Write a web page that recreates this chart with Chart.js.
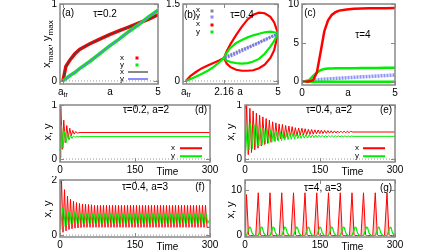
<!DOCTYPE html>
<html>
<head>
<meta charset="utf-8">
<script src="https://cdn.jsdelivr.net/npm/chart.js@4.4.0/dist/chart.umd.min.js"></script>
<style>
html, body { margin: 0; padding: 0; background: #fff; }
#fig { position: relative; width: 448px; height: 252px; overflow: hidden; font-family: "Liberation Sans", Arial, sans-serif; color: #000; }
#fig canvas { position: absolute; }
.c { position: absolute; transform: translate(-50%, -50%); white-space: nowrap; font-size: 10px; line-height: 1; }
.sm { font-size: 8px; }
.yt { position: absolute; transform: translate(-50%, -50%) rotate(-90deg); white-space: nowrap; font-size: 11px; line-height: 1; }
.yt sub { font-size: 8px; }
.dot { position: absolute; width: 3px; height: 3px; transform: translate(-50%, -50%); }
.ln { position: absolute; height: 2px; transform: translateY(-50%); }
</style>
</head>
<body>
<div id="fig">
  <canvas id="pa"></canvas><canvas id="pb"></canvas><canvas id="pc"></canvas>
  <canvas id="pd"></canvas><canvas id="pe"></canvas><canvas id="pf"></canvas><canvas id="pg"></canvas>

  <div class="yt" style="left:48px;top:44px">x<sub>max</sub>, y<sub>max</sub></div>
  <div class="yt" style="left:47px;top:132px">x, y</div>
  <div class="yt" style="left:230px;top:132px">x, y</div>
  <div class="yt" style="left:47px;top:209px">x, y</div>
  <div class="yt" style="left:230px;top:210px">x, y</div>

  <div class="c" style="left:68px;top:13px">(a)</div>
  <div class="c" style="left:105px;top:14px">τ=0.2</div>
  <div class="c sm" style="left:122px;top:58px">x</div>
  <div class="c sm" style="left:122px;top:65px">y</div>
  <div class="c sm" style="left:122px;top:72px">x</div>
  <div class="c sm" style="left:122px;top:79px">y</div>
  <div class="dot" style="left:137px;top:58px;background:#f00"></div>
  <div class="dot" style="left:137px;top:65px;background:#0e0"></div>
  <div class="ln" style="left:128px;top:72px;width:20px;background:#888"></div>
  <div class="ln" style="left:128px;top:79px;width:20px;background:#8c8cff"></div>

  <div class="c" style="left:190px;top:15px">(b)</div>
  <div class="c" style="left:242px;top:15px">τ=0.4</div>
  <div class="c sm" style="left:198px;top:10px">x</div>
  <div class="c sm" style="left:198px;top:16px">y</div>
  <div class="c sm" style="left:198px;top:24px">x</div>
  <div class="c sm" style="left:198px;top:32px">y</div>
  <div class="dot" style="left:212px;top:11px;background:#888"></div>
  <div class="dot" style="left:212px;top:17px;background:#8c8cff"></div>
  <div class="dot" style="left:212px;top:25px;background:#f00"></div>
  <div class="dot" style="left:212px;top:32px;background:#0e0"></div>

  <div class="c" style="left:310px;top:13px">(c)</div>
  <div class="c" style="left:363px;top:35px">τ=4</div>

  <div class="c" style="left:146px;top:110px">τ=0.2, a=2</div>
  <div class="c" style="left:201px;top:110px">(d)</div>
  <div class="c sm" style="left:173px;top:148px">x</div>
  <div class="c sm" style="left:173px;top:156px">y</div>
  <div class="ln" style="left:180px;top:148px;width:22px;background:#f00;height:1.5px"></div>
  <div class="ln" style="left:180px;top:156px;width:22px;background:#0e0;height:1.5px"></div>

  <div class="c" style="left:329px;top:110px">τ=0.4, a=2</div>
  <div class="c" style="left:386px;top:110px">(e)</div>
  <div class="c sm" style="left:357px;top:148px">x</div>
  <div class="c sm" style="left:357px;top:156px">y</div>
  <div class="ln" style="left:363px;top:148px;width:22px;background:#f00;height:1.5px"></div>
  <div class="ln" style="left:363px;top:156px;width:22px;background:#0e0;height:1.5px"></div>

  <div class="c" style="left:145px;top:187px">τ=0.4, a=3</div>
  <div class="c" style="left:200px;top:187px">(f)</div>

  <div class="c" style="left:323px;top:188px">τ=4, a=3</div>
  <div class="c" style="left:386px;top:188px">(g)</div>
</div>

<script>
// (a) tau = 0.2, maxima versus a
const aA    = [0.15, 0.3, 0.5, 0.75, 1, 1.5, 2, 2.5, 3, 3.5, 4, 4.5, 5];
const aXsim = [0, 0.19, 0.27, 0.35, 0.41, 0.48, 0.54, 0.6, 0.65, 0.7, 0.75, 0.8, 0.86];
const aYsim = [0, 0.03, 0.07, 0.11, 0.16, 0.25, 0.35, 0.45, 0.54, 0.64, 0.73, 0.83, 0.92];
const aXth  = [0, 0.19, 0.27, 0.35, 0.41, 0.48, 0.54, 0.6, 0.65, 0.7, 0.75, 0.8, 0.86];
const aYth  = [0, 0.03, 0.07, 0.11, 0.16, 0.25, 0.35, 0.45, 0.54, 0.64, 0.73, 0.83, 0.92];

// (b) tau = 0.4
const bA1  = [0.15, 0.4, 0.7, 1.0, 1.3, 1.6, 1.9, 2.16];
const bX1  = [0, 0.1, 0.18, 0.25, 0.3, 0.35, 0.4, 0.45];
const bY1  = [0, 0.04, 0.09, 0.14, 0.2, 0.27, 0.36, 0.45];
const bA2  = [2.16, 2.3, 2.5, 2.8, 3.1, 3.4, 3.7, 4.0, 4.3, 4.6, 4.8, 5];
const bXup = [0.45, 0.58, 0.72, 0.9, 1.06, 1.2, 1.29, 1.33, 1.32, 1.25, 1.14, 0.93];
const bXlo = [0.45, 0.34, 0.27, 0.22, 0.2, 0.2, 0.21, 0.25, 0.32, 0.45, 0.6, 0.93];
const bYup = [0.45, 0.55, 0.65, 0.74, 0.8, 0.85, 0.89, 0.92, 0.95, 0.96, 0.95, 0.93];
const bYlo = [0.45, 0.4, 0.37, 0.35, 0.34, 0.35, 0.38, 0.43, 0.53, 0.67, 0.78, 0.93];
const bA3  = [2.2, 2.6, 3.0, 3.4, 3.8, 4.2, 4.6, 5];
const bXth = [0.47, 0.53, 0.6, 0.66, 0.72, 0.79, 0.86, 0.92];
const bYth = [0.45, 0.5, 0.57, 0.64, 0.71, 0.78, 0.85, 0.92];

// (c) tau = 4
const cA    = [0, 0.2, 0.4, 0.6, 0.8, 1.0, 1.2, 1.4, 1.6, 1.8, 2.0, 2.4, 2.8, 3.2, 3.6, 4, 4.5, 5];
const cX    = [0, 0, 0.05, 0.2, 1.2, 3.8, 6.5, 7.9, 8.6, 8.95, 9.15, 9.3, 9.38, 9.42, 9.44, 9.45, 9.46, 9.47];
const cYmax = [0, 0, 0.25, 0.75, 1.2, 1.5, 1.63, 1.69, 1.71, 1.72, 1.73, 1.74, 1.75, 1.76, 1.77, 1.78, 1.79, 1.8];
const cAlow = [0, 5];
const cYmin = [0, 0];
const cAb   = [0.2, 1, 2, 3, 4, 5];
const cYb   = [0.05, 0.3, 0.45, 0.6, 0.73, 0.86];

// (d) tau = 0.2, a = 2
const dTx = [0, 1.5, 4.5, 7.5, 10.5, 13.5, 16.5, 19.5, 22.5, 25.5, 28.5, 31.5, 34.5, 40, 300];
const dX  = [0.02, 1.0, 0.18, 0.72, 0.3, 0.62, 0.38, 0.57, 0.43, 0.53, 0.46, 0.51, 0.48, 0.49, 0.49];
const dTy = [0, 3, 6, 9, 12, 15, 18, 21, 24, 27, 30, 33, 36, 42, 300];
const dY  = [0.08, 0.62, 0.2, 0.52, 0.3, 0.47, 0.35, 0.44, 0.38, 0.43, 0.4, 0.42, 0.41, 0.415, 0.415];

// (e) tau = 0.4, a = 2 : successive extrema, half period apart
const eStep = 3.25;
const eX0 = 0, eY0 = 1.6;
const eX = [0.05, 1.0, 0.08, 0.94, 0.12, 0.89, 0.17, 0.85, 0.2, 0.81, 0.24, 0.78, 0.27, 0.75, 0.29, 0.72,
  0.31, 0.69, 0.34, 0.67, 0.35, 0.65, 0.37, 0.64, 0.38, 0.62, 0.4, 0.61, 0.41, 0.6, 0.42, 0.58,
  0.43, 0.575, 0.44, 0.57, 0.445, 0.56, 0.45, 0.55, 0.455, 0.547, 0.46, 0.54, 0.465, 0.537, 0.47, 0.533,
  0.472, 0.53, 0.475, 0.526, 0.478, 0.523, 0.48, 0.52, 0.482, 0.518, 0.484, 0.516, 0.486, 0.514,
  0.488, 0.513, 0.49, 0.511, 0.5];
const eY = [0.15, 0.7, 0.17, 0.67, 0.19, 0.64, 0.22, 0.62, 0.24, 0.59, 0.26, 0.57, 0.28, 0.56, 0.295, 0.54,
  0.31, 0.53, 0.32, 0.52, 0.33, 0.506, 0.34, 0.496, 0.35, 0.488, 0.36, 0.48, 0.365, 0.474, 0.37, 0.468,
  0.377, 0.462, 0.382, 0.458, 0.386, 0.453, 0.39, 0.45, 0.393, 0.446, 0.396, 0.443, 0.399, 0.441,
  0.401, 0.438, 0.403, 0.436, 0.405, 0.435, 0.407, 0.433, 0.408, 0.432, 0.409, 0.43, 0.41, 0.429,
  0.411, 0.428, 0.412, 0.427, 0.413, 0.426, 0.42];
const eXend = 0.5, eYend = 0.42;

// (f) tau = 0.4, a = 3 : successive extrema, half period apart
const fStep = 3;
const fX0 = 0, fY0 = 1.5;
const fX = [0.3, 2.0, 0.1, 1.65, 0.15, 1.42, 0.2, 1.3, 0.23, 1.23, 0.25, 1.18, 0.26, 1.15, 0.27, 1.13,
  0.28, 1.12, 0.28, 1.11, 0.28, 1.1,
  0.28, 1.08, 0.28, 1.08, 0.28, 1.08, 0.28, 1.08, 0.28, 1.08, 0.28, 1.08, 0.28, 1.08, 0.28, 1.08,
  0.28, 1.08, 0.28, 1.08, 0.28, 1.08, 0.28, 1.08, 0.28, 1.08, 0.28, 1.08, 0.28, 1.08, 0.28, 1.08,
  0.28, 1.08, 0.28, 1.08, 0.28, 1.08, 0.28, 1.08, 0.28, 1.08, 0.28, 1.08, 0.28, 1.08, 0.28, 1.08,
  0.28, 1.08, 0.28, 1.08, 0.28, 1.08, 0.28, 1.08, 0.28, 1.08, 0.28, 1.08, 0.28, 1.08, 0.28, 1.08,
  0.28, 1.08, 0.28, 1.08, 0.28, 1.08, 0.28, 1.08, 0.28, 1.08, 0.28, 1.08, 0.28];
const fY = [0.2, 1.0, 0.3, 0.92, 0.36, 0.87, 0.39, 0.84, 0.41, 0.82, 0.42, 0.81, 0.42,
  0.8, 0.42, 0.8, 0.42, 0.8, 0.42, 0.8, 0.42, 0.8, 0.42, 0.8, 0.42, 0.8, 0.42, 0.8, 0.42,
  0.8, 0.42, 0.8, 0.42, 0.8, 0.42, 0.8, 0.42, 0.8, 0.42, 0.8, 0.42, 0.8, 0.42, 0.8, 0.42,
  0.8, 0.42, 0.8, 0.42, 0.8, 0.42, 0.8, 0.42, 0.8, 0.42, 0.8, 0.42, 0.8, 0.42, 0.8, 0.42,
  0.8, 0.42, 0.8, 0.42, 0.8, 0.42, 0.8, 0.42, 0.8, 0.42, 0.8, 0.42, 0.8, 0.42, 0.8, 0.42,
  0.8, 0.42, 0.8, 0.42, 0.8, 0.42, 0.8, 0.42, 0.8, 0.42, 0.8, 0.42, 0.8, 0.42, 0.8, 0.42,
  0.8, 0.42, 0.8, 0.42, 0.8, 0.42];
const fXend = 0.28, fYend = 0.6;

// (g) tau = 4, a = 3 : pulses
const gT = [0, 3, 7, 9, 11, 14, 18,
  21.5, 26.5, 30.5, 32.5, 34.5, 37.5, 41.5,
  45, 50, 54, 56, 58, 61, 65,
  68.5, 73.5, 77.5, 79.5, 81.5, 84.5, 88.5,
  92, 97, 101, 103, 105, 108, 112,
  115, 120, 124, 126, 128, 131, 135,
  138.5, 143.5, 147.5, 149.5, 151.5, 154.5, 158.5,
  162, 167, 171, 173, 175, 178, 182,
  185.5, 190.5, 194.5, 196.5, 198.5, 201.5, 205.5,
  209, 214, 218, 220, 222, 225, 229,
  232, 237, 241, 243, 245, 248, 252,
  255.5, 260.5, 264.5, 266.5, 268.5, 271.5, 275.5,
  279, 284, 288, 290, 292, 295, 299,
  300];
const gX = [0, 9.0, 0.3, 0, 0, 0, 0,
  0, 9.4, 0.3, 0, 0, 0, 0,
  0, 9.4, 0.3, 0, 0, 0, 0,
  0, 9.4, 0.3, 0, 0, 0, 0,
  0, 9.4, 0.3, 0, 0, 0, 0,
  0, 9.4, 0.3, 0, 0, 0, 0,
  0, 9.4, 0.3, 0, 0, 0, 0,
  0, 9.4, 0.3, 0, 0, 0, 0,
  0, 9.4, 0.3, 0, 0, 0, 0,
  0, 9.4, 0.3, 0, 0, 0, 0,
  0, 9.4, 0.3, 0, 0, 0, 0,
  0, 9.4, 0.3, 0, 0, 0, 0,
  0, 9.4, 0.3, 0, 0, 0, 0,
  0];
const gY = [0.1, 0.05, 1.2, 1.85, 1.8, 0.6, 0.05,
  0, 0.05, 1.2, 1.85, 1.8, 0.6, 0.05,
  0, 0.05, 1.2, 1.85, 1.8, 0.6, 0.05,
  0, 0.05, 1.2, 1.85, 1.8, 0.6, 0.05,
  0, 0.05, 1.2, 1.85, 1.8, 0.6, 0.05,
  0, 0.05, 1.2, 1.85, 1.8, 0.6, 0.05,
  0, 0.05, 1.2, 1.85, 1.8, 0.6, 0.05,
  0, 0.05, 1.2, 1.85, 1.8, 0.6, 0.05,
  0, 0.05, 1.2, 1.85, 1.8, 0.6, 0.05,
  0, 0.05, 1.2, 1.85, 1.8, 0.6, 0.05,
  0, 0.05, 1.2, 1.85, 1.8, 0.6, 0.05,
  0, 0.05, 1.2, 1.85, 1.8, 0.6, 0.05,
  0, 0.05, 1.2, 1.85, 1.8, 0.6, 0.05,
  0];

const RED = '#ff0000', GREEN = '#00ee00', BLUE = '#7a7aff', GRAY = '#888';

function pts(xs, ys) {
  return xs.map((x, i) => ({ x: x, y: ys[i] }));
}
// series given as extrema at a fixed step, then held at its last value
function stepped(t0, step, vals, tEnd, vEnd) {
  const p = vals.map((v, i) => ({ x: t0 + i * step, y: v }));
  p.push({ x: tEnd, y: vEnd });
  return p;
}
function line(data, color, width, extra) {
  return Object.assign({ data: data, borderColor: color, borderWidth: width, pointRadius: 0, fill: false, tension: 0 }, extra || {});
}
function zero(x0, x1) {
  return line([{ x: x0, y: 0 }, { x: x1, y: 0 }], '#999', 1, { borderDash: [1, 2] });
}

// frame, inward ticks and tick labels, placed through the chart scales
function framePlugin(tk) {
  return {
    id: 'frame',
    afterDatasetsDraw(chart) {
      const ctx = chart.ctx, ar = chart.chartArea;
      const sx = chart.scales.x, sy = chart.scales.y;
      ctx.save();
      ctx.strokeStyle = GRAY;
      ctx.lineWidth = 1;
      ctx.beginPath();
      tk.x.forEach(t => {
        if (t.mark === false) return;
        const px = Math.round(sx.getPixelForValue(t.v)) + 0.5;
        ctx.moveTo(px, ar.bottom); ctx.lineTo(px, ar.bottom - 4);
        ctx.moveTo(px, ar.top); ctx.lineTo(px, ar.top + 4);
      });
      tk.y.forEach(t => {
        const py = Math.round(sy.getPixelForValue(t.v)) + 0.5;
        ctx.moveTo(ar.left, py); ctx.lineTo(ar.left + 4, py);
        ctx.moveTo(ar.right, py); ctx.lineTo(ar.right - 4, py);
      });
      ctx.stroke();
      ctx.lineWidth = 1.5;
      ctx.strokeRect(ar.left, ar.top, ar.right - ar.left, ar.bottom - ar.top);

      ctx.fillStyle = '#000';
      ctx.textBaseline = 'middle';
      ctx.font = '10px "Liberation Sans", Arial, sans-serif';
      tk.x.forEach(t => {
        const px = sx.getPixelForValue(t.v);
        const py = ar.bottom + 8.5 + (t.dy || 0);
        if (t.sub) {
          ctx.font = '10px "Liberation Sans", Arial, sans-serif';
          const w1 = ctx.measureText(t.l).width;
          ctx.font = '7px "Liberation Sans", Arial, sans-serif';
          const w2 = ctx.measureText(t.sub).width;
          const x0 = px - (w1 + w2) / 2;
          ctx.textAlign = 'left';
          ctx.font = '10px "Liberation Sans", Arial, sans-serif';
          ctx.fillText(t.l, x0, py);
          ctx.font = '7px "Liberation Sans", Arial, sans-serif';
          ctx.fillText(t.sub, x0 + w1, py + 3);
          ctx.font = '10px "Liberation Sans", Arial, sans-serif';
        } else {
          ctx.textAlign = 'center';
          ctx.fillText(t.l, px, py);
        }
      });
      ctx.textAlign = 'right';
      tk.y.forEach(t => {
        ctx.fillText(t.l, ar.left - 3, sy.getPixelForValue(t.v));
      });
      ctx.restore();
    }
  };
}

const PAD = { left: 24, right: 10, top: 4, bottom: 18 };

function panel(id, box, xr, yr, datasets, tk) {
  const cv = document.getElementById(id);
  cv.width = box.r - box.l + PAD.left + PAD.right;
  cv.height = box.b - box.t + PAD.top + PAD.bottom;
  cv.style.left = (box.l - PAD.left) + 'px';
  cv.style.top = (box.t - PAD.top) + 'px';
  return new Chart(cv, {
    type: 'line',
    data: { datasets: datasets },
    options: {
      responsive: false,
      animation: false,
      devicePixelRatio: 1,
      layout: { padding: PAD },
      events: [],
      plugins: { legend: { display: false }, tooltip: { enabled: false } },
      scales: {
        x: { type: 'linear', min: xr[0], max: xr[1], display: false },
        y: { type: 'linear', min: yr[0], max: yr[1], display: false }
      }
    },
    plugins: [framePlugin(tk)]
  });
}

const tkTime = [{ v: 0, l: '0' }, { v: 150, l: '150' }, { v: 215, l: 'Time', mark: false, dy: 2 }, { v: 300, l: '300' }];

panel('pa', { l: 60, t: 4, r: 158, b: 84 }, [0, 5], [-0.039, 1], [
  line(pts(aA, aYth), BLUE, 1.2),
  line(pts(aA, aYsim), GREEN, 3.5),
  line(pts(aA, aXth), '#444', 1.2),
  line(pts(aA, aXsim), RED, 3.5),
  zero(0, 5)
], {
  x: [{ v: 0.15, l: 'a', sub: 'tr' }, { v: 2.55, l: 'a', mark: false }, { v: 5, l: '5' }],
  y: [{ v: 0, l: '0' }, { v: 1, l: '1' }]
});

panel('pb', { l: 183, t: 4, r: 278, b: 84 }, [0, 5], [-0.058, 1.5], [
  line(pts(bA3, bYth), 'rgba(110,110,255,0.85)', 3, { borderDash: [2, 1] }),
  line(pts(bA3, bXth), 'rgba(140,140,140,0.9)', 2.5, { borderDash: [2, 1] }),
  line(pts(bA1, bY1), GREEN, 2.2),
  line(pts(bA2, bYup), GREEN, 2.2),
  line(pts(bA2, bYlo), GREEN, 2.2),
  line(pts(bA1, bX1), RED, 2.2),
  line(pts(bA2, bXup), RED, 2.2),
  line(pts(bA2, bXlo), RED, 2.2),
  zero(0, 5)
], {
  x: [{ v: 0.15, l: 'a', sub: 'tr' }, { v: 2.16, l: '2.16' }, { v: 3.0, l: 'a', mark: false }, { v: 5, l: '5' }],
  y: [{ v: 0, l: '0' }, { v: 1.5, l: '1.5' }]
});

panel('pc', { l: 302, t: 4, r: 395, b: 85 }, [0, 5], [-0.42, 10], [
  line(pts(cA, cX), RED, 2.5),
  line(pts(cA, cYmax), GREEN, 2.5),
  line(pts(cAlow, cYmin), GREEN, 2.5),
  line(pts(cAb, cYb), 'rgba(110,110,255,0.75)', 3.5, { borderDash: [2, 1] })
], {
  x: [{ v: 0, l: '0' }, { v: 2.47, l: 'a', mark: false }, { v: 5, l: '5' }],
  y: [{ v: 0, l: '0' }, { v: 5, l: '5' }, { v: 10, l: '10' }]
});

panel('pd', { l: 60, t: 105, r: 210, b: 162 }, [0, 300], [-0.055, 1], [
  line(pts(dTy, dY), GREEN, 1),
  line(pts(dTx, dX), RED, 1),
  zero(0, 300)
], { x: tkTime, y: [{ v: 0, l: '0' }, { v: 1, l: '1' }] });

panel('pe', { l: 245, t: 105, r: 395, b: 162 }, [0, 300], [-0.055, 1], [
  line(stepped(eY0, eStep, eY, 300, eYend), GREEN, 1),
  line(stepped(eX0, eStep, eX, 300, eXend), RED, 1),
  zero(0, 300)
], { x: tkTime, y: [{ v: 0, l: '0' }, { v: 1, l: '1' }] });

panel('pf', { l: 60, t: 180, r: 210, b: 237 }, [0, 300], [-0.07, 2], [
  line(stepped(fY0, fStep, fY, 300, fYend), GREEN, 1),
  line(stepped(fX0, fStep, fX, 300, fXend), RED, 1),
  zero(0, 300)
], { x: tkTime, y: [{ v: 0, l: '0' }, { v: 2, l: '2' }] });

panel('pg', { l: 245, t: 180, r: 395, b: 237 }, [0, 300], [-0.3, 12.2], [
  line(pts(gT, gY), GREEN, 1.2),
  line(pts(gT, gX), RED, 1, { fill: 'origin', backgroundColor: 'rgba(255,0,0,0.22)' })
], { x: tkTime, y: [{ v: 0, l: '0' }, { v: 10, l: '10' }] });
</script>
</body>
</html>
